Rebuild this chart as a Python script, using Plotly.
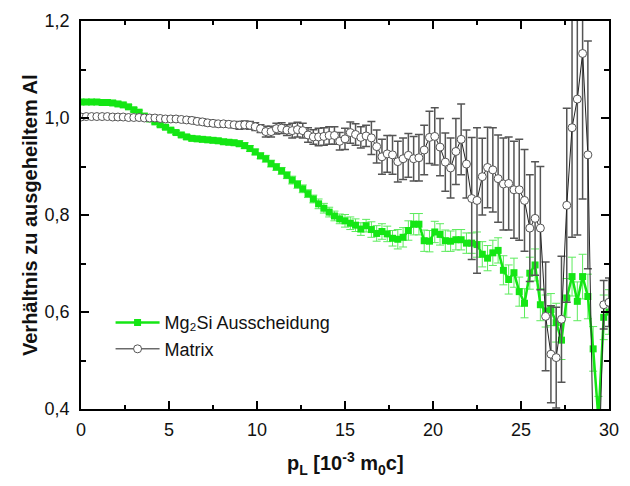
import plotly.graph_objects as go

# Longitudinal momentum p_L in units of 10^-3 m0c (step 0.3)
p_L = [round(0.3 * i, 1) for i in range(101)]

# Ratio to annealed Al: Mg2Si precipitates
mg2si = [
    1.033, 1.033, 1.033, 1.033, 1.032, 1.032, 1.031, 1.029, 1.027, 1.023,
    1.017, 1.012, 1.004, 0.998, 0.992, 0.986, 0.981, 0.975, 0.970, 0.965,
    0.961, 0.958, 0.957, 0.956, 0.955, 0.954, 0.953, 0.951, 0.950, 0.949,
    0.947, 0.943, 0.937, 0.930, 0.922, 0.916, 0.906, 0.899, 0.891, 0.882,
    0.872, 0.863, 0.854, 0.844, 0.833, 0.823, 0.814, 0.806, 0.798, 0.792,
    0.788, 0.783, 0.779, 0.771, 0.778, 0.770, 0.762, 0.766, 0.761, 0.752,
    0.750, 0.754, 0.768, 0.781, 0.781, 0.747, 0.746, 0.765, 0.760, 0.747,
    0.746, 0.749, 0.749, 0.742, 0.742, 0.739, 0.719, 0.711, 0.722, 0.727,
    0.686, 0.667, 0.681, 0.642, 0.618, 0.680, 0.697, 0.615, 0.602, 0.605,
    0.578, 0.542, 0.629, 0.673, 0.622, 0.673, 0.632, 0.524, 0.380, 0.589,
    0.600,
]
mg2si_err = [
    0.004, 0.004, 0.004, 0.004, 0.004, 0.004, 0.004, 0.004, 0.004, 0.004,
    0.004, 0.004, 0.004, 0.004, 0.004, 0.004, 0.004, 0.004, 0.004, 0.004,
    0.005, 0.005, 0.005, 0.005, 0.005, 0.005, 0.005, 0.005, 0.005, 0.005,
    0.006, 0.006, 0.006, 0.006, 0.006, 0.007, 0.007, 0.007, 0.007, 0.007,
    0.008, 0.008, 0.008, 0.008, 0.008, 0.010, 0.010, 0.010, 0.010, 0.010,
    0.013, 0.013, 0.013, 0.013, 0.013, 0.016, 0.016, 0.016, 0.016, 0.016,
    0.020, 0.020, 0.020, 0.022, 0.022, 0.022, 0.022, 0.022, 0.022, 0.022,
    0.021, 0.021, 0.021, 0.021, 0.021, 0.026, 0.026, 0.026, 0.026, 0.026,
    0.030, 0.030, 0.030, 0.030, 0.030, 0.033, 0.033, 0.033, 0.033, 0.033,
    0.040, 0.040, 0.040, 0.040, 0.040, 0.046, 0.046, 0.046, 0.046, 0.046,
    0.046,
]

# Ratio to annealed Al: matrix
matrix = [
    1.002, 1.003, 1.003, 1.003, 1.003, 1.003, 1.002, 1.002, 1.002, 1.001,
    1.001, 1.001, 1.000, 1.000, 1.000, 0.999, 0.998, 0.998, 0.998, 0.997,
    0.996, 0.995, 0.993, 0.992, 0.990, 0.989, 0.988, 0.988, 0.987, 0.986,
    0.985, 0.986, 0.985, 0.982, 0.978, 0.972, 0.972, 0.978, 0.979, 0.975,
    0.974, 0.976, 0.974, 0.965, 0.961, 0.961, 0.962, 0.964, 0.964, 0.952,
    0.957, 0.970, 0.966, 0.960, 0.963, 0.959, 0.941, 0.920, 0.926, 0.924,
    0.910, 0.916, 0.923, 0.916, 0.918, 0.934, 0.960, 0.962, 0.940, 0.909,
    0.897, 0.931, 0.956, 0.905, 0.834, 0.830, 0.879, 0.898, 0.893, 0.875,
    0.864, 0.865, 0.852, 0.852, 0.830, 0.773, 0.793, 0.773, 0.591, 0.513,
    0.506, 0.585, 0.820, 0.980, 1.039, 1.133, 0.924, 0.330, 0.250, 0.615,
    0.620,
]
matrix_err = [
    0.004, 0.004, 0.004, 0.004, 0.004, 0.004, 0.004, 0.004, 0.004, 0.004,
    0.004, 0.004, 0.004, 0.004, 0.004, 0.004, 0.004, 0.004, 0.004, 0.004,
    0.006, 0.006, 0.006, 0.006, 0.006, 0.006, 0.006, 0.006, 0.006, 0.006,
    0.008, 0.008, 0.008, 0.008, 0.008, 0.011, 0.011, 0.011, 0.011, 0.011,
    0.015, 0.015, 0.015, 0.015, 0.015, 0.018, 0.018, 0.018, 0.018, 0.018,
    0.022, 0.022, 0.022, 0.022, 0.022, 0.034, 0.034, 0.036, 0.038, 0.040,
    0.042, 0.043, 0.045, 0.046, 0.048, 0.051, 0.054, 0.059, 0.059, 0.060,
    0.062, 0.068, 0.073, 0.070, 0.126, 0.150, 0.079, 0.083, 0.087, 0.090,
    0.095, 0.096, 0.100, 0.104, 0.105, 0.110, 0.117, 0.127, 0.112, 0.100,
    0.104, 0.130, 0.200, 0.226, 0.280, 0.300, 0.235, 0.050, 0.050, 0.050,
    0.050,
]

FONT = "Liberation Sans, Arial, sans-serif"
GREEN = "#14E614"

fig = go.Figure()

fig.add_trace(go.Scatter(
    x=p_L, y=mg2si,
    name="Mg₂Si Ausscheidung",
    mode="lines+markers",
    line=dict(color=GREEN, width=2.5),
    marker=dict(symbol="square", size=7, color=GREEN),
    error_y=dict(type="data", array=mg2si_err, color="#5CEB5C",
                 thickness=1, width=4),
))

fig.add_trace(go.Scatter(
    x=p_L, y=matrix,
    name="Matrix",
    mode="lines+markers",
    line=dict(color="#222222", width=1),
    marker=dict(symbol="circle", size=8, color="white",
                line=dict(color="#555555", width=1)),
    error_y=dict(type="data", array=matrix_err, color="#555555",
                 thickness=1.5, width=4),
))

axis_common = dict(
    showline=True, linecolor="black", linewidth=1.5, mirror="ticks",
    ticks="inside", ticklen=8, tickwidth=1.5, tickcolor="black",
    showgrid=False, zeroline=False,
    tickfont=dict(family=FONT, size=18, color="#111111"),
)

fig.update_xaxes(
    range=[0, 30], dtick=5, tick0=0,
    minor=dict(dtick=2.5, ticks="inside", ticklen=4, tickwidth=1.5,
               tickcolor="black"),
    ticklabelstandoff=4,
    **axis_common,
)
fig.update_yaxes(
    range=[0.4, 1.2], dtick=0.2, tick0=0.4, tickformat=".1f",
    minor=dict(dtick=0.1, ticks="inside", ticklen=5, tickwidth=1.5,
               tickcolor="black"),
    ticklabelstandoff=6,
    **axis_common,
)

fig.add_annotation(
    text="<b>p<sub>L</sub> [10<sup>-3</sup> m<sub>0</sub>c]</b>",
    xref="paper", yref="paper", x=0.5, y=0, yshift=-54,
    showarrow=False, xanchor="center", yanchor="middle",
    font=dict(family=FONT, size=20, color="#111111"),
)
fig.add_annotation(
    text="<b>Verhältnis zu ausgeheiltem Al</b>",
    xref="paper", yref="paper", x=0, y=0.5, xshift=-51,
    textangle=-90, showarrow=False, xanchor="center", yanchor="middle",
    font=dict(family=FONT, size=20, color="#111111"),
)

fig.update_layout(
    width=630, height=486,
    margin=dict(l=81, r=11, t=16, b=77),
    paper_bgcolor="white", plot_bgcolor="white",
    separators=", ",
    showlegend=True,
    legend=dict(
        x=0.056, y=0.27, xanchor="left", yanchor="top",
        bgcolor="rgba(0,0,0,0)", borderwidth=0,
        font=dict(family=FONT, size=18, color="#111111"),
        itemwidth=44, tracegroupgap=0,
    ),
)

fig.write_html("out.html")
